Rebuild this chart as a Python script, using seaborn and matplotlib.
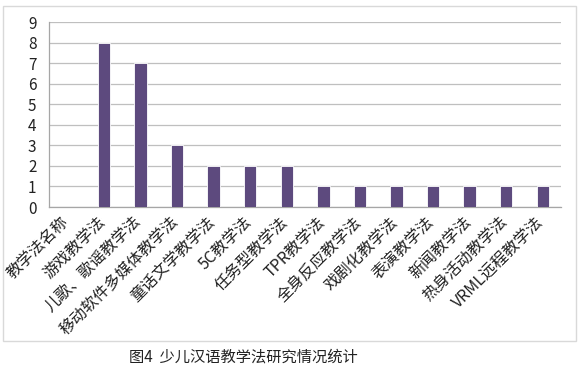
import matplotlib
matplotlib.use('Agg')
import matplotlib.pyplot as plt
import seaborn as sns
import pandas as pd
from matplotlib.patches import Rectangle
from matplotlib.transforms import ScaledTranslation

# data
methods = ['教学法名称', '游戏教学法', '儿歌、歌谣教学法', '移动软件多媒体教学法',
           '童话文学教学法', '5C教学法', '任务型教学法', 'TPR教学法',
           '全身反应教学法', '戏剧化教学法', '表演教学法', '新闻教学法',
           '热身活动教学法', 'VRML远程教学法']
counts = [0, 8, 7, 3, 2, 2, 2, 1, 1, 1, 1, 1, 1, 1]
y_ticks = list(range(0, 10))
caption = '图4  少儿汉语教学法研究情况统计'

df = pd.DataFrame({'method': methods, 'count': counts})

sns.set_style('white')
plt.rcParams['font.family'] = ['Noto Sans CJK SC', 'DejaVu Sans']

fig = plt.figure(figsize=(5.79, 3.75), dpi=100)
ax = fig.add_axes([0.0846, 0.448, 0.8844, 0.493])

sns.barplot(data=df, x='method', y='count', color='#5d4a7e', width=0.34,
            edgecolor='white', linewidth=0.6, saturation=1, ax=ax, zorder=3)

ax.set_ylim(0, 9)
ax.set_xlim(-0.5, len(methods) - 0.5)
ax.set_yticks(y_ticks)
ax.yaxis.grid(True, color='#bfbfbf', linewidth=0.9, zorder=0)
ax.set_xlabel('')
ax.set_ylabel('')

for side in ['top', 'right']:
    ax.spines[side].set_visible(False)
for side in ['left', 'bottom']:
    ax.spines[side].set_color('#a6a6a6')
    ax.spines[side].set_linewidth(0.9)

# category ticks sit between the bars, labels under the bars
ax.set_xticks([i - 0.5 for i in range(len(methods) + 1)], minor=False)
ax.set_xticklabels([])
ax.tick_params(axis='x', direction='out', length=5, color='#a6a6a6', width=0.9)
ax.tick_params(axis='y', direction='out', length=5, color='#a6a6a6', width=0.9,
               labelsize=11, labelcolor='#222222', pad=4)
ax.set_xticks(range(len(methods)), minor=True)
ax.set_xticklabels(methods, minor=True, rotation=45, ha='right',
                   rotation_mode='anchor', fontsize=11.5, color='#222222')
ax.tick_params(axis='x', which='minor', length=0, pad=5)
shift = ScaledTranslation(-7 / 100, 0, fig.dpi_scale_trans)
for lbl in ax.get_xticklabels(minor=True):
    lbl.set_transform(lbl.get_transform() + shift)

# light frame around the chart area
fig.patches.append(Rectangle((0.006, 0.09), 0.988, 0.895, transform=fig.transFigure,
                             fill=False, edgecolor='#d9d9d9', linewidth=1.0))

fig.text(0.42, 0.048, caption, ha='center', va='center', fontsize=11, color='#222222')

fig.savefig('out.png', dpi=100)
